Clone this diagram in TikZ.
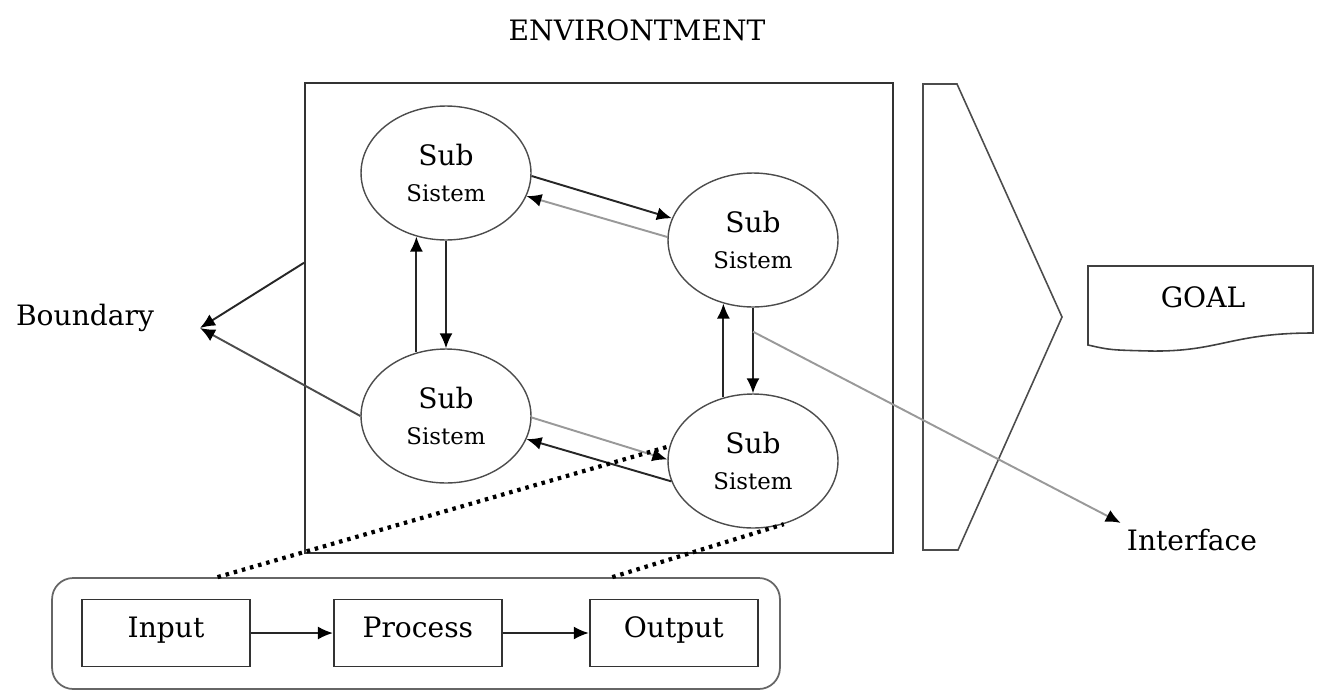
\documentclass[tikz,border=0pt]{standalone}
\usepackage{fontspec}
\setmainfont{DejaVu Serif}
\usetikzlibrary{arrows.meta}
\usetikzlibrary{shapes.geometric}
\usetikzlibrary{positioning}
\usetikzlibrary{calc}

\begin{document}
\begin{tikzpicture}[x=0.02cm, y=-0.02cm, font=\fontsize{16}{20}\selectfont]

		\tikzstyle{flow} = [->, line width=1.1pt, draw=black!85, -{Latex[length=3mm, width=2.6mm, color=black]}]
		\tikzstyle{flow_light} = [flow, draw=black!40]
		\tikzstyle{dots} = [line width=2.4pt, dash pattern=on 2pt off 2.8pt]
		\tikzstyle{subsys} = [ellipse, draw=black!70, line width=0.8pt, minimum width=3.4cm, minimum height=2.68cm, align=center]
		\tikzstyle{block} = [rectangle, draw=black!80, line width=1.1pt, minimum width=3.36cm, minimum height=1.34cm, text height=0.7em, text depth=0.15em]

		\useasboundingbox (0,0) rectangle (1317,690);

		\node (env) at (637,30) {ENVIRONTMENT};
		\node[draw=black!80, line width=1.2pt, minimum width=11.76cm, minimum height=9.4cm] (sys) at (599,318) {};

		\node[subsys] (s1) at (446,173) {Sub\\{\fontsize{13}{16}\selectfont Sistem}};
		\node[subsys] (s2) at (753,240) {Sub\\{\fontsize{13}{16}\selectfont Sistem}};
		\node[subsys] (s3) at (446,416) {Sub\\{\fontsize{13}{16}\selectfont Sistem}};
		\node[subsys] (s4) at (753,461) {Sub\\{\fontsize{13}{16}\selectfont Sistem}};

		\draw[flow] (s1.-2) -- (s2.165);
		\draw[flow_light] (s2.178) -- (s1.-16);
		\draw[flow] (s1.south) -- (s3.north);
		\draw[flow] (s3.115) -- (s1.245);
		\draw[flow] (s2.south) -- (s4.north);
		\draw[flow] (s4.115) -- (s2.245);
		\draw[flow_light] (s3.-1) -- (s4.179);
		\draw[flow] (s4.194) -- (s3.-16);

		% boundary
		\node (bnd) at (85,318) {Boundary};
		\coordinate (btip) at (200,328);
		\draw[flow] ($(sys.north west)!0.383!(sys.south west)$) -- (btip);
		\draw[flow, draw=black!70] (s3.west) -- (btip);

		% environment edge and goal
		\draw[draw=black!70, line width=0.9pt] (923,84) -- (957,84) -- (1062,317) -- (958,550) -- (923,550) -- cycle;
		\node (goal) at (1203,297) {GOAL};
		\draw[draw=black!75, line width=0.9pt] (1088,266) -- (1313,266) -- (1313,333)
			.. controls (1230,333) and (1220,352) .. (1150,351)
			.. controls (1110,350) .. (1088,345) -- cycle;

		% interface
		\node (iface) at (1192,540) {Interface};
		\coordinate (ifs) at ($(s2.south)!0.28!(s4.north)$);
		\draw[flow_light] (ifs) -- (iface.north west);

		% input - process - output
		\node[draw=black!60, line width=1pt, rounded corners=12pt, minimum width=14.56cm, minimum height=2.22cm] (ipo) at (416,633.5) {};
		\node[block] (input) at (166,633) {Input};
		\node[block, right=1.64cm of input] (process) {Process};
		\node[block, right=1.72cm of process] (output) {Output};
		\draw[flow] (input) -- (process);
		\draw[flow] (process) -- (output);

		\draw[dots] ($(ipo.north west)!0.228!(ipo.north east)$) -- (s4.170);
		\draw[dots] ($(ipo.north west)!0.769!(ipo.north east)$) -- (s4.-64);

\end{tikzpicture}
\end{document}
